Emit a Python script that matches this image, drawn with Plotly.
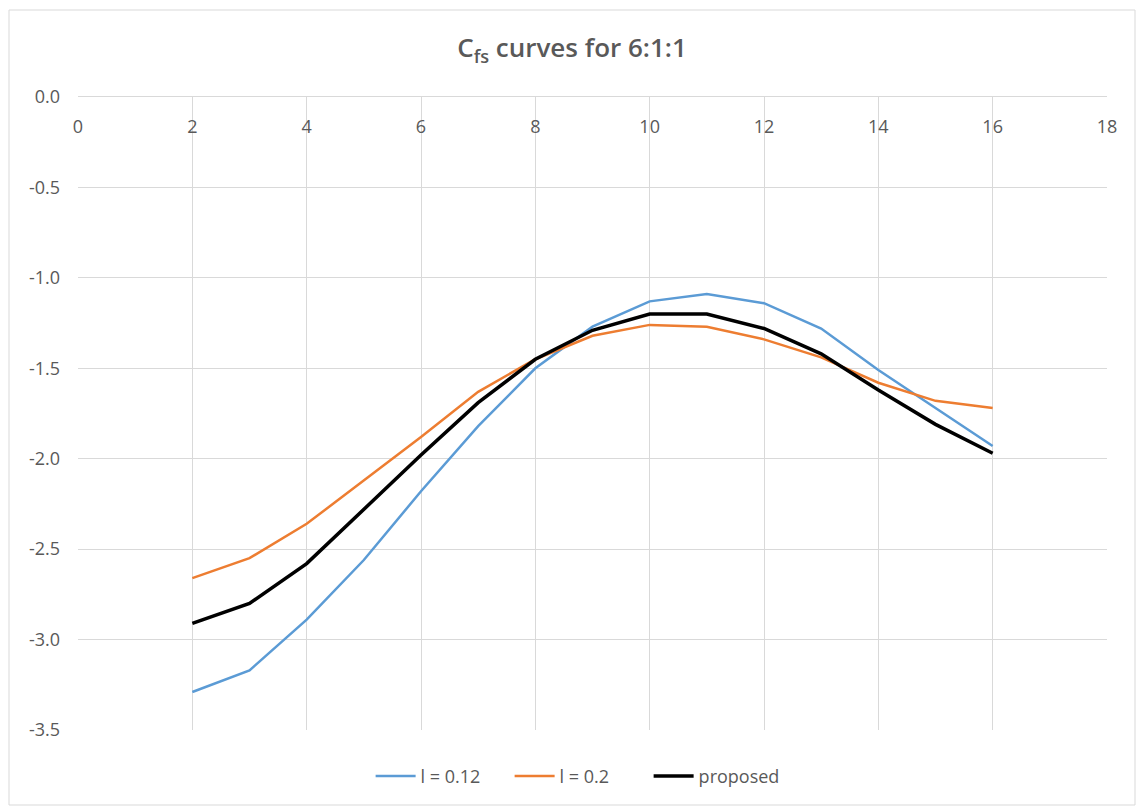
import plotly.graph_objects as go

x_vals = [2, 3, 4, 5, 6, 7, 8, 9, 10, 11, 12, 13, 14, 15, 16]
l_012 = [-3.29, -3.17, -2.89, -2.56, -2.18, -1.82, -1.50, -1.27, -1.13, -1.09, -1.14, -1.28, -1.51, -1.72, -1.93]
l_02 = [-2.66, -2.55, -2.36, -2.12, -1.88, -1.63, -1.45, -1.32, -1.26, -1.27, -1.34, -1.44, -1.58, -1.68, -1.72]
proposed = [-2.91, -2.80, -2.58, -2.28, -1.98, -1.69, -1.45, -1.29, -1.20, -1.20, -1.28, -1.42, -1.62, -1.81, -1.97]

x_ticks = [0, 2, 4, 6, 8, 10, 12, 14, 16, 18]
y_ticks = [0.0, -0.5, -1.0, -1.5, -2.0, -2.5, -3.0, -3.5]
y_tick_text = ["0.0", "-0.5", "-1.0", "-1.5", "-2.0", "-2.5", "-3.0", "-3.5"]

font_family = "Open Sans, Liberation Sans, Arial, sans-serif"
grey_text = "#595959"
grid = "#D9D9D9"

fig = go.Figure()
fig.add_trace(go.Scatter(x=x_vals, y=l_012, mode="lines", name="l = 0.12",
                         line=dict(color="#5B9BD5", width=2.5)))
fig.add_trace(go.Scatter(x=x_vals, y=l_02, mode="lines", name="l = 0.2",
                         line=dict(color="#ED7D31", width=2.5)))
fig.add_trace(go.Scatter(x=x_vals, y=proposed, mode="lines", name="proposed",
                         line=dict(color="#000000", width=3.5)))

# page body has an 8px margin: figure is 1136x799 so plot area lands at page 78..1107 x 97..730
fig.update_layout(
    width=1136, height=799,
    paper_bgcolor="white", plot_bgcolor="white",
    margin=dict(l=70, r=37, t=89, b=77, autoexpand=False),
    font=dict(family=font_family, color=grey_text, size=17),
    title=dict(text="C<sub>fs</sub> curves for 6:1:1", x=(572 - 8) / 1136,
               xanchor="center", xref="container",
               y=1 - 40 / 799, yanchor="middle",
               font=dict(size=26, color=grey_text, family=font_family, weight=600)),
    showlegend=True,
    legend=dict(orientation="h", x=0.487, xanchor="center", y=-0.073, yanchor="middle",
                font=dict(size=18, color=grey_text), itemwidth=40, traceorder="normal",
                entrywidth=84, entrywidthmode="pixels"),
    xaxis=dict(range=[0, 18], tickvals=x_ticks, side="top", showgrid=True, gridcolor=grid,
               gridwidth=1, showline=True, linecolor=grid, linewidth=1,
               ticks="", ticklabelposition="inside", ticklabelstandoff=24,
               ticklabeloverflow="allow",
               tickfont=dict(size=18, color=grey_text), zeroline=False),
    yaxis=dict(range=[-3.5, 0], tickvals=y_ticks, ticktext=y_tick_text, showgrid=True,
               gridcolor=grid, gridwidth=1, zeroline=False, showline=False, ticks="",
               ticklabeloverflow="allow", ticklabelstandoff=17,
               tickfont=dict(size=18, color=grey_text)),
)

fig.add_shape(type="rect", xref="paper", yref="paper",
              x0=-69 / 1029, x1=1 + 28 / 1029, y0=-75 / 633, y1=1 + 87 / 633,
              line=dict(color="#D9D9D9", width=1), fillcolor="rgba(0,0,0,0)", layer="below")

fig.write_html("out.html")
